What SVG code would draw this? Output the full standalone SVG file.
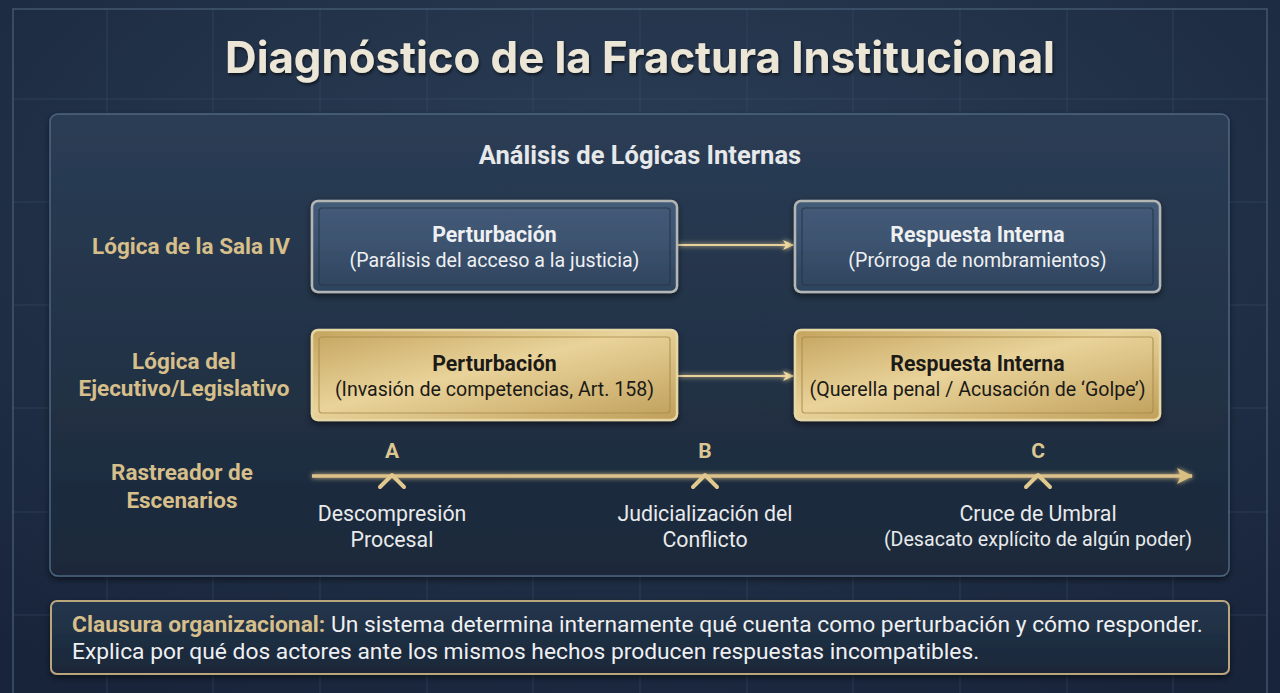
<svg xmlns="http://www.w3.org/2000/svg" width="1280" height="693" viewBox="0 0 1280 693">
<defs>
  <radialGradient id="bg" cx="0.5" cy="0.3" r="0.8">
    <stop offset="0" stop-color="#2b3f57"/>
    <stop offset="1" stop-color="#18243a"/>
  </radialGradient>
  <linearGradient id="panel" x1="0" y1="0" x2="0" y2="1">
    <stop offset="0" stop-color="#2a3d55"/>
    <stop offset="1" stop-color="#1b2839"/>
  </linearGradient>
  <linearGradient id="blueBox" x1="0" y1="0" x2="0" y2="1">
    <stop offset="0" stop-color="#445c79"/>
    <stop offset="0.5" stop-color="#3b526e"/>
    <stop offset="1" stop-color="#2e435d"/>
  </linearGradient>
  <linearGradient id="goldBox" x1="0" y1="0" x2="1" y2="1">
    <stop offset="0" stop-color="#c4a45e"/>
    <stop offset="0.45" stop-color="#e9d39a"/>
    <stop offset="1" stop-color="#bf9f5a"/>
  </linearGradient>
  <linearGradient id="bottomBox" x1="0" y1="0" x2="0" y2="1">
    <stop offset="0" stop-color="#24364d"/>
    <stop offset="1" stop-color="#1a2738"/>
  </linearGradient>
  <filter id="shadow" x="-10%" y="-20%" width="120%" height="150%">
    <feDropShadow dx="0" dy="3" stdDeviation="3" flood-color="#000" flood-opacity="0.5"/>
  </filter>
  <filter id="glow" filterUnits="userSpaceOnUse" x="0" y="0" width="1280" height="693">
    <feGaussianBlur stdDeviation="2.5" result="b"/>
    <feMerge><feMergeNode in="b"/><feMergeNode in="SourceGraphic"/></feMerge>
  </filter>
  <filter id="tshadow" x="-5%" y="-20%" width="110%" height="150%">
    <feDropShadow dx="1" dy="2" stdDeviation="1.5" flood-color="#000" flood-opacity="0.6"/>
  </filter>
  <marker id="arrow" markerWidth="12" markerHeight="12" refX="10" refY="6" orient="auto" markerUnits="userSpaceOnUse">
    <path d="M0,1 L11,6 L0,11 L3,6 Z" fill="#efd9a0"/>
  </marker>
  <marker id="arrowBig" markerWidth="18" markerHeight="18" refX="15" refY="9" orient="auto" markerUnits="userSpaceOnUse">
    <path d="M0,1 L16,9 L0,17 L4,9 Z" fill="#d9bf82"/>
  </marker>
</defs>
<style>
  .t { font-family: Roboto, "Liberation Sans", sans-serif; }
  .title { font-family: Inter, Roboto, "Liberation Sans", sans-serif; font-weight: 700; font-size: 43.7px; fill: #ece6d6; }
  .sub { font-weight: 700; font-size: 25.5px; fill: #e6e8ea; }
  .rowlab { font-weight: 700; font-size: 22.5px; fill: #d6bf8a; }
  .bhead { font-weight: 700; font-size: 21.3px; }
  .bsub { font-size: 19.6px; }
  .light { fill: #eef0f2; }
  .dark { fill: #1c1a16; }
  .letter { font-weight: 700; font-size: 21px; fill: #dcc793; }
  .tl { font-size: 21.3px; fill: #e8eaec; }
  .tl-small { font-size: 19.6px; fill: #e8eaec; }
  .grid line { stroke: #3a506a; stroke-width: 1; opacity: 0.5; }
  .blue-outer { fill: url(#blueBox); stroke: #b4b6b6; stroke-width: 2.5; }
  .gold-outer { fill: url(#goldBox); stroke: #e8d7a6; stroke-width: 2.5; }
  .blue-inner { fill: none; stroke: #233449; stroke-width: 1.2; opacity: 0.8; }
  .gold-inner { fill: none; stroke: #a88b4c; stroke-width: 1.2; opacity: 0.8; }
  .conn { stroke: #ead39b; stroke-width: 2; fill: none; }
  .chev { fill: none; stroke: #e0c88e; stroke-width: 4; stroke-linecap: round; stroke-linejoin: round; }
</style>

<rect width="1280" height="693" fill="url(#bg)"/>
<g class="grid">
  <line x1="107" y1="9" x2="107" y2="693"/>
  <line x1="213" y1="9" x2="213" y2="693"/>
  <line x1="320" y1="9" x2="320" y2="693"/>
  <line x1="427" y1="9" x2="427" y2="693"/>
  <line x1="533" y1="9" x2="533" y2="693"/>
  <line x1="640" y1="9" x2="640" y2="693"/>
  <line x1="747" y1="9" x2="747" y2="693"/>
  <line x1="853" y1="9" x2="853" y2="693"/>
  <line x1="960" y1="9" x2="960" y2="693"/>
  <line x1="1067" y1="9" x2="1067" y2="693"/>
  <line x1="1173" y1="9" x2="1173" y2="693"/>
  <line x1="13" y1="99" x2="1267" y2="99"/>
  <line x1="13" y1="202" x2="1267" y2="202"/>
  <line x1="13" y1="305" x2="1267" y2="305"/>
  <line x1="13" y1="408" x2="1267" y2="408"/>
  <line x1="13" y1="512" x2="1267" y2="512"/>
  <line x1="13" y1="615" x2="1267" y2="615"/>
</g>
<rect x="13" y="9" width="1254" height="700" fill="none" stroke="#4b6079" stroke-width="1.5" opacity="0.8"/>

<text class="title" x="640" y="73" text-anchor="middle" filter="url(#tshadow)">Diagnóstico de la Fractura Institucional</text>

<g id="panel">
  <rect x="50" y="114" width="1179" height="462" rx="8" fill="url(#panel)" stroke="#4d6580" stroke-width="1.5" filter="url(#shadow)"/>
  <text class="t sub" x="640" y="164" text-anchor="middle">Análisis de Lógicas Internas</text>
</g>

<g id="label-sala">
  <text class="t rowlab" x="191" y="254" text-anchor="middle">Lógica de la Sala IV</text>
</g>
<g id="label-ejecutivo">
  <text class="t rowlab" x="184" y="369" text-anchor="middle">Lógica del</text>
  <text class="t rowlab" x="184" y="396" text-anchor="middle">Ejecutivo/Legislativo</text>
</g>
<g id="label-rastreador">
  <text class="t rowlab" x="182" y="480" text-anchor="middle">Rastreador de</text>
  <text class="t rowlab" x="182" y="508" text-anchor="middle">Escenarios</text>
</g>

<g id="connectors">
  <line class="conn" x1="678" y1="245" x2="793" y2="245" marker-end="url(#arrow)" filter="url(#glow)"/>
  <line class="conn" x1="678" y1="376" x2="793" y2="376" marker-end="url(#arrow)" filter="url(#glow)"/>
</g>

<g id="node-perturbacion-sala">
  <rect class="blue-outer" x="312" y="201" width="365" height="91" rx="6" filter="url(#shadow)"/>
  <rect class="blue-inner" x="319" y="208" width="351" height="77" rx="3"/>
  <text class="t bhead light" x="494.5" y="242" text-anchor="middle">Perturbación</text>
  <text class="t bsub light" x="494.5" y="267" text-anchor="middle">(Parálisis del acceso a la justicia)</text>
</g>
<g id="node-respuesta-sala">
  <rect class="blue-outer" x="795" y="201" width="365" height="91" rx="6" filter="url(#shadow)"/>
  <rect class="blue-inner" x="802" y="208" width="351" height="77" rx="3"/>
  <text class="t bhead light" x="977.5" y="242" text-anchor="middle">Respuesta Interna</text>
  <text class="t bsub light" x="977.5" y="267" text-anchor="middle">(Prórroga de nombramientos)</text>
</g>
<g id="node-perturbacion-ejecutivo">
  <rect class="gold-outer" x="312" y="330" width="365" height="90" rx="6" filter="url(#shadow)"/>
  <rect class="gold-inner" x="319" y="337" width="351" height="76" rx="3"/>
  <text class="t bhead dark" x="494.5" y="371" text-anchor="middle">Perturbación</text>
  <text class="t bsub dark" x="494.5" y="396" text-anchor="middle">(Invasión de competencias, Art. 158)</text>
</g>
<g id="node-respuesta-ejecutivo">
  <rect class="gold-outer" x="795" y="330" width="365" height="90" rx="6" filter="url(#shadow)"/>
  <rect class="gold-inner" x="802" y="337" width="351" height="76" rx="3"/>
  <text class="t bhead dark" x="977.5" y="371" text-anchor="middle">Respuesta Interna</text>
  <text class="t bsub dark" x="977.5" y="396" text-anchor="middle">(Querella penal / Acusación de ‘Golpe’)</text>
</g>

<g id="timeline">
  <line x1="312" y1="476" x2="1192" y2="476" stroke="#dcc28a" stroke-width="3.5" marker-end="url(#arrowBig)" filter="url(#glow)"/>
</g>
<g id="scenario-a">
  <text class="t letter" x="392" y="458" text-anchor="middle">A</text>
  <path class="chev" d="M380,487 L392,475 L404,487"/>
  <text class="t tl" x="392" y="521" text-anchor="middle">Descompresión</text>
  <text class="t tl" x="392" y="547" text-anchor="middle">Procesal</text>
</g>
<g id="scenario-b">
  <text class="t letter" x="705" y="458" text-anchor="middle">B</text>
  <path class="chev" d="M693,487 L705,475 L717,487"/>
  <text class="t tl" x="705" y="521" text-anchor="middle">Judicialización del</text>
  <text class="t tl" x="705" y="547" text-anchor="middle">Conflicto</text>
</g>
<g id="scenario-c">
  <text class="t letter" x="1038" y="458" text-anchor="middle">C</text>
  <path class="chev" d="M1026,487 L1038,475 L1050,487"/>
  <text class="t tl" x="1038" y="521" text-anchor="middle">Cruce de Umbral</text>
  <text class="t tl-small" x="1038" y="546" text-anchor="middle">(Desacato explícito de algún poder)</text>
</g>

<g id="note">
  <rect x="51" y="601" width="1178" height="73" rx="6" fill="url(#bottomBox)" stroke="#b9a67c" stroke-width="2" filter="url(#shadow)"/>
  <text class="t" x="72" y="632" font-size="22.8" fill="#eef0f2"><tspan font-weight="700" fill="#d6bf8a">Clausura organizacional:</tspan> Un sistema determina internamente qué cuenta como perturbación y cómo responder.</text>
  <text class="t" x="72" y="659" font-size="22.8" fill="#eef0f2">Explica por qué dos actores ante los mismos hechos producen respuestas incompatibles.</text>
</g>
</svg>
